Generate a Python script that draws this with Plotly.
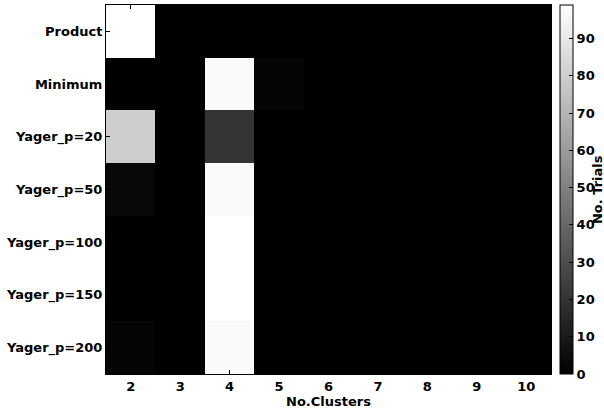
import plotly.graph_objects as go

clusters = [2, 3, 4, 5, 6, 7, 8, 9, 10]
methods = ["Product", "Minimum", "Yager_p=20", "Yager_p=50",
           "Yager_p=100", "Yager_p=150", "Yager_p=200"]
trials = [
    [99, 0, 0, 0, 0, 0, 0, 0, 0],
    [0, 0, 97, 2, 0, 0, 0, 0, 0],
    [80, 0, 20, 0, 0, 0, 0, 0, 0],
    [3, 0, 97, 0, 0, 0, 0, 0, 0],
    [0, 0, 99, 0, 0, 0, 0, 0, 0],
    [0, 0, 99, 0, 0, 0, 0, 0, 0],
    [2, 0, 97, 0, 0, 0, 0, 0, 0],
]
cbar_ticks = [0, 10, 20, 30, 40, 50, 60, 70, 80, 90]

fam = "DejaVu Sans, sans-serif"
font = dict(family=fam, size=13, color="black")

def bold(items):
    return ["<b>%s</b>" % v for v in items]

fig = go.Figure(go.Heatmap(
    x=clusters, y=methods, z=trials,
    colorscale=[[0, "black"], [1, "white"]],
    zmin=0, zmax=99,
    colorbar=dict(
        x=1.0202, xanchor="left", xpad=0, ypad=0,
        y=0.5, yanchor="middle", len=1, lenmode="fraction",
        thickness=13, outlinecolor="black", outlinewidth=1,
        tickmode="array", tickvals=cbar_ticks, ticktext=bold(cbar_ticks),
        ticks="inside", ticklen=4, tickcolor="black",
        tickfont=font,
    ),
))

fig.add_annotation(
    text="<b>No. Trials</b>", textangle=-90,
    xref="paper", yref="paper", x=1.1034, y=0.4986,
    xanchor="center", yanchor="middle", showarrow=False, font=font,
)

fig.update_layout(
    width=604, height=409,
    margin=dict(l=106, r=53, t=5, b=35, autoexpand=False),
    paper_bgcolor="white", plot_bgcolor="black",
    font=font,
    xaxis=dict(
        tickmode="array", tickvals=clusters, ticktext=bold(clusters),
        ticks="inside", ticklen=4, tickcolor="black",
        showline=True, linecolor="black", linewidth=1, mirror="ticks",
        showgrid=False, zeroline=False, tickfont=font,
        title=dict(text="<b>No.Clusters</b>", standoff=0, font=font),
    ),
    yaxis=dict(
        autorange="reversed",
        tickmode="array", tickvals=methods, ticktext=bold(methods),
        ticks="inside", ticklen=4, tickcolor="black",
        showline=True, linecolor="black", linewidth=1, mirror="ticks",
        showgrid=False, zeroline=False, tickfont=font,
    ),
)

fig.write_html("out.html")
